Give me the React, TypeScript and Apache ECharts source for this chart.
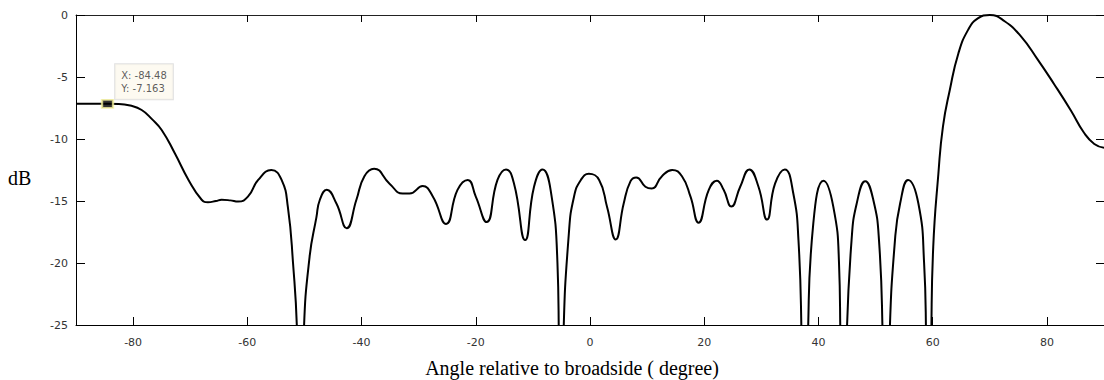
import React, { useEffect, useRef } from "react";
import * as echarts from "echarts";

const angles = [
  -90, -86, -84.48, -82.5, -80.5, -78.5, -76.7, -75, -72.7, -70.3, -68, -66.9, -65.5, -64.5, -63, -61.6,
  -59.9, -58.1, -55.8, -54, -52.9, -52, -51.3, -50.7, -50.1, -49.1, -47.9, -47.3, -46.1, -44.4, -42.6,
  -40.9, -39.5, -37.8, -35.1, -32.8, -31.6, -29.3, -27.5, -25.2, -23.2, -21.4, -20.0, -18.1, -16.2,
  -14.7, -13.3, -11.35, -9.8, -8.3, -6.9, -5.7, -5.45, -5.05, -4.65, -3.7, -2.8, -1.6, -0.2, 1.6, 3.0,
  4.5, 5.9, 7.1, 8.1, 9.7, 10.8, 12.6, 14.4, 16.1, 17.6, 19.0, 20.8, 22.2, 23.4, 24.75, 26.3, 27.9,
  29.5, 31.0, 32.4, 34.1, 35.6, 36.5, 37.05, 37.6, 38.15, 39.1, 40.9, 42.6, 43.6, 43.85, 44.4, 44.95,
  45.8, 46.7, 48.2, 49.6, 50.6, 51.25, 51.85, 52.45, 53.4, 54.3, 55.7, 57.5, 58.5, 58.85, 59.3, 59.75,
  60.1, 61.0, 61.8, 63.0, 64.5, 66.2, 67.9, 70.0, 72.6, 75.5, 78.4, 81.3, 84.2, 86.5, 88.3, 90,
];

const gainDb = [
  -7.163, -7.163, -7.163, -7.17, -7.3, -7.66, -8.4, -9.27, -11.15, -13.3, -14.9, -15.1, -15.0, -14.9,
  -14.95, -15.05, -14.65, -13.3, -12.5, -13.3, -15.5, -20, -25.5, -40, -25.5, -19.5, -16.3, -14.9,
  -14.1, -15.2, -17.2, -14.9, -13.0, -12.4, -13.6, -14.4, -14.4, -13.8, -14.65, -16.85, -14.1, -13.3,
  -14.65, -16.7, -13.3, -12.45, -13.6, -18.15, -13.85, -12.45, -14.1, -20, -26, -40, -26, -17.6,
  -14.65, -13.3, -12.8, -13.3, -15.5, -18.1, -15.2, -13.4, -13.1, -13.85, -14.0, -13.0, -12.5, -13.0,
  -14.65, -16.75, -14.1, -13.36, -14.1, -15.45, -13.85, -12.45, -13.85, -16.5, -13.6, -12.45, -14.4,
  -18.15, -26, -40, -26, -16.8, -13.36, -15.45, -20, -26, -40, -26, -18.15, -15.2, -13.4, -14.9,
  -18.15, -26, -40, -26, -18.15, -15.2, -13.3, -15.2, -20, -26, -40, -26, -18.7, -12.8, -9.0, -6.05,
  -3.1, -1.2, -0.27, 0, -0.5, -1.75, -3.6, -5.6, -7.7, -9.5, -10.4, -10.7,
];

const xTicks = [-80, -60, -40, -20, 0, 20, 40, 60, 80];
const tipPoint = [-84.48, -7.163];

export default function App() {
  const ref = useRef<HTMLDivElement>(null);
  useEffect(() => {
    if (!ref.current) return;
    const chart = echarts.init(ref.current, null, { renderer: "svg" });
    const data = angles.map((a, i) => [a, gainDb[i]]);
    const labelStyle = {
      fontFamily: "DejaVu Sans",
      fontSize: 11,
      color: "#333",
    };
    chart.setOption({
      animation: false,
      backgroundColor: "#fff",
      grid: { left: 76, top: 15, width: 1030, height: 310, containLabel: false },
      xAxis: [
        {
          type: "value",
          min: -90,
          max: 90,
          position: "bottom",
          splitLine: { show: false },
          axisLine: { show: true, onZero: false, lineStyle: { color: "#000", width: 1 } },
          axisTick: { show: true, inside: true, length: 8, customValues: xTicks, lineStyle: { color: "#000" } },
          axisLabel: { show: true, margin: 12, customValues: xTicks, ...labelStyle },
        },
        {
          type: "value",
          min: -90,
          max: 90,
          position: "top",
          splitLine: { show: false },
          axisLine: { show: true, onZero: false, lineStyle: { color: "#222", width: 1 } },
          axisTick: { show: true, inside: true, length: 7, customValues: xTicks, lineStyle: { color: "#000" } },
          axisLabel: { show: false },
        },
      ],
      yAxis: [
        {
          type: "value",
          min: -25,
          max: 0,
          interval: 5,
          position: "left",
          splitLine: { show: false },
          axisLine: { show: true, onZero: false, lineStyle: { color: "#000", width: 1 } },
          axisTick: { show: true, inside: true, length: 9, lineStyle: { color: "#000" } },
          axisLabel: { show: true, margin: 8, ...labelStyle },
        },
        {
          type: "value",
          min: -25,
          max: 0,
          interval: 5,
          position: "right",
          splitLine: { show: false },
          axisLine: { show: true, onZero: false, lineStyle: { color: "#000", width: 1 } },
          axisTick: { show: true, inside: true, length: 8, lineStyle: { color: "#000" } },
          axisLabel: { show: false },
        },
      ],
      graphic: [
        {
          type: "text",
          left: 8,
          top: 168,
          style: {
            text: "dB",
            font: "20px 'Liberation Serif'",
            fill: "#000",
          },
        },
        {
          type: "text",
          x: 572,
          y: 368,
          style: {
            text: "Angle relative to broadside ( degree)",
            font: "20px 'Liberation Serif'",
            fill: "#000",
            textAlign: "center",
            textVerticalAlign: "middle",
          },
        },
      ],
      series: [
        {
          type: "line",
          data,
          xAxisIndex: 0,
          yAxisIndex: 0,
          smooth: 0.5,
          showSymbol: false,
          symbol: "none",
          clip: true,
          lineStyle: { color: "#000", width: 2 },
        },
        {
          type: "scatter",
          data: [tipPoint],
          xAxisIndex: 0,
          yAxisIndex: 0,
          symbol: "rect",
          symbolSize: [11, 8],
          itemStyle: { color: "#000", borderColor: "#f3ef9a", borderWidth: 2 },
          z: 5,
          label: {
            show: true,
            position: "right",
            distance: 1,
            offset: [0, -22],
            formatter: "X: -84.48\nY: -7.163",
            fontFamily: "DejaVu Sans",
            fontSize: 10,
            lineHeight: 13,
            color: "#333",
            backgroundColor: "#fdf9ee",
            borderColor: "#d8d8d8",
            borderWidth: 1,
            padding: [5, 6, 4, 6],
          },
        },
      ],
    });
    return () => chart.dispose();
  }, []);
  return (
    <div
      ref={ref}
      style={{ position: "fixed", left: 0, top: 0, width: 1104, height: 380, background: "#fff" }}
    />
  );
}
